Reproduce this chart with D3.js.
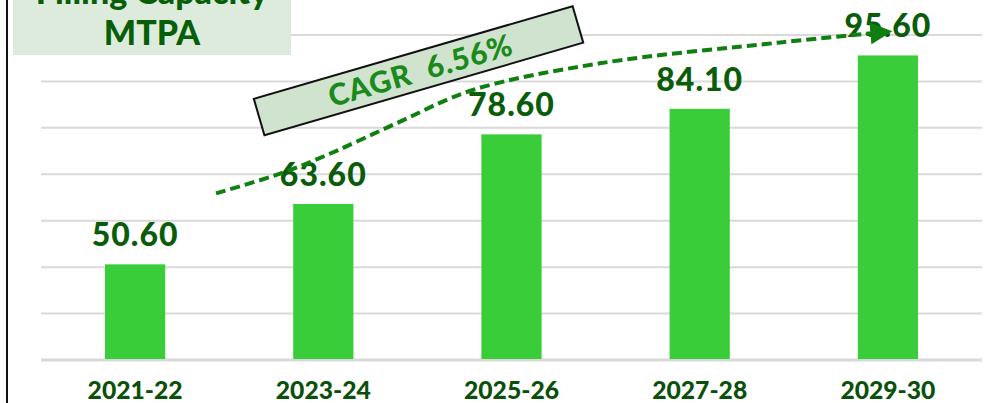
<!DOCTYPE html>
<html>
<head>
<meta charset="utf-8">
<script src="https://cdn.jsdelivr.net/npm/d3@7"></script>
<style>
  html, body { margin: 0; padding: 0; background: #fff; }
  svg { display: block; font-family: Lato, "Open Sans", sans-serif; }
</style>
</head>
<body>
<div id="graph"></div>
<script>
// Données
const years = ['2021-22', '2023-24', '2025-26', '2027-28', '2029-30'];
const capacity = [50.60, 63.60, 78.60, 84.10, 95.60];
const gridValues = [30, 40, 50, 60, 70, 80, 90, 100];
const titleLines = ['Filling Capacity', 'MTPA'];
const cagrLabel = 'CAGR  6.56%';
// courbe de tendance : [position en index de catégorie, valeur]
const trendIdx = [0.43, 0.79, 1.05, 1.39, 1.79, 2.47, 3.43, 4.00];
const trendVal = [65.9, 70.4, 74.7, 81.0, 88.1, 93.9, 98.4, 100.7];

const width = 989;
const height = 403;

const svg = d3.select('#graph')
  .append('svg')
  .attr('width', width)
  .attr('height', height);

// Échelles
const x = d3.scaleBand()
  .domain(years)
  .range([41, 982])
  .paddingInner(0.68)
  .paddingOuter(0.34);

const y = d3.scaleLinear()
  .domain([30, 100])
  .range([360, 35]);

// position continue sur l'axe des catégories
const xIdx = d3.scaleLinear()
  .domain([0, years.length - 1])
  .range([x(years[0]) + x.bandwidth() / 2, x(years[years.length - 1]) + x.bandwidth() / 2]);

// Grille
svg.append('g')
  .selectAll('line')
  .data(gridValues)
  .join('line')
  .attr('x1', 41)
  .attr('x2', 982)
  .attr('y1', d => y(d))
  .attr('y2', d => y(d))
  .attr('stroke', '#d9d9d9')
  .attr('stroke-width', d => d === 30 ? 3 : 2);

// Barres
svg.append('g')
  .selectAll('rect')
  .data(capacity)
  .join('rect')
  .attr('x', (d, i) => x(years[i]))
  .attr('y', d => y(d))
  .attr('width', x.bandwidth())
  .attr('height', d => y(30) - y(d) - 1)
  .attr('fill', '#3acd3a');

// Étiquettes de valeurs
svg.append('g')
  .selectAll('text')
  .data(capacity)
  .join('text')
  .attr('x', (d, i) => x(years[i]) + x.bandwidth() / 2)
  .attr('y', d => y(d) - 18)
  .attr('text-anchor', 'middle')
  .attr('font-size', 32)
  .attr('font-weight', 900)
  .attr('fill', '#0a5c0a')
  .attr('letter-spacing', 1)
  .text(d => d.toFixed(2));

// Axe X
svg.append('g')
  .selectAll('text')
  .data(years)
  .join('text')
  .attr('x', d => x(d) + x.bandwidth() / 2)
  .attr('y', 399)
  .attr('text-anchor', 'middle')
  .attr('font-size', 25)
  .attr('font-weight', 900)
  .attr('fill', '#0a4f0a')
  .attr('textLength', 95)
  .attr('lengthAdjust', 'spacingAndGlyphs')
  .text(d => d);

// Titre
const titleG = svg.append('g');
titleG.append('rect')
  .attr('x', 13)
  .attr('y', -10)
  .attr('width', 278)
  .attr('height', 65)
  .attr('fill', '#ddebdd');
titleG.selectAll('text')
  .data(titleLines)
  .join('text')
  .attr('x', 152)
  .attr('y', (d, i) => 4 + i * 41)
  .attr('text-anchor', 'middle')
  .attr('font-size', 34)
  .attr('font-weight', 900)
  .attr('fill', '#075e07')
  .text(d => d);

// Encadré CAGR
const cagrG = svg.append('g')
  .attr('transform', `translate(${xIdx(1.506)},${y(92.3)}) rotate(-16.2)`);
cagrG.append('rect')
  .attr('x', -166)
  .attr('y', -19)
  .attr('width', 332)
  .attr('height', 38)
  .attr('fill', '#cfe3cf')
  .attr('stroke', '#111')
  .attr('stroke-width', 2);
cagrG.append('text')
  .attr('x', 2)
  .attr('y', 11)
  .attr('text-anchor', 'middle')
  .attr('font-size', 30)
  .attr('font-weight', 900)
  .attr('fill', '#1a8a1a')
  .attr('letter-spacing', 1)
  .style('white-space', 'pre')
  .text(cagrLabel);

// Flèche de tendance
const defs = svg.append('defs');
defs.append('marker')
  .attr('id', 'arrow')
  .attr('viewBox', '0 0 10 10')
  .attr('refX', 8)
  .attr('refY', 5)
  .attr('markerWidth', 5.5)
  .attr('markerHeight', 5.5)
  .attr('markerUnits', 'strokeWidth')
  .attr('orient', 'auto')
  .append('path')
  .attr('d', 'M0,0 L10,5 L0,10 Z')
  .attr('fill', '#0f7f0f');

const trend = d3.line()
  .x(d => xIdx(d[0]))
  .y(d => y(d[1]))
  .curve(d3.curveCatmullRom);

svg.append('path')
  .datum(trendIdx.map((d, i) => [d, trendVal[i]]))
  .attr('d', trend)
  .attr('fill', 'none')
  .attr('stroke', '#0f7f0f')
  .attr('stroke-width', 4)
  .attr('stroke-dasharray', '10,5')
  .attr('marker-end', 'url(#arrow)');

// Trait vertical à gauche
svg.append('line')
  .attr('x1', 7)
  .attr('x2', 7)
  .attr('y1', 0)
  .attr('y2', height)
  .attr('stroke', '#111')
  .attr('stroke-width', 2);
</script>
</body>
</html>
